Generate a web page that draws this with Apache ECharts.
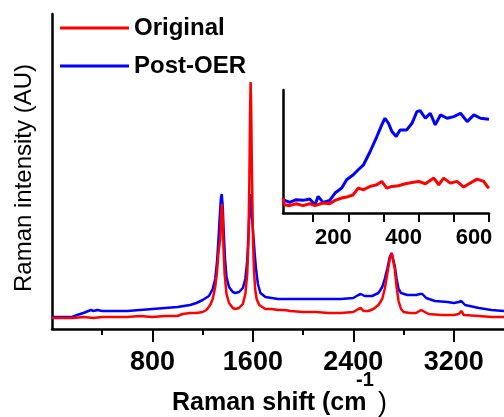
<!DOCTYPE html>
<html><head><meta charset="utf-8">
<script src="https://cdn.jsdelivr.net/npm/echarts@6/dist/echarts.min.js"></script>
<style>html,body{margin:0;padding:0;background:#fff}#c{width:504px;height:417px}</style>
</head><body><div id="c"></div>
<script>
// Main spectrum (Raman shift, intensity in arbitrary units)
const shiftOriginal = [0,60,120,170,250,330,400,480,600,700,800,900,1000,1040,1100,1150,1200,1230,1260,1280,1300,1315,1325,1335,1340,1348,1354,1360,1366,1375,1390,1410,1440,1460,1490,1520,1540,1555,1565,1572,1578,1582,1586,1592,1600,1608,1618,1630,1650,1700,1750,1800,1850,1900,2000,2100,2200,2300,2400,2440,2460,2480,2520,2560,2600,2630,2650,2670,2690,2705,2715,2730,2745,2760,2780,2800,2850,2900,2940,2970,3000,3100,3200,3240,3260,3280,3400,3500,3600];
const intOriginal   = [11,11,11,11,12,11,12,12,12,13,12,13,13,15,16,16,17,19,24,30,42,58,75,86,90,118,125,110,80,55,35,26,21,20,21,25,35,55,90,150,220,247,225,160,95,60,40,30,24,20,20,19,19,18,17,17,16,16,17,20,21,18,18,20,24,30,40,55,70,76,74,60,42,28,20,17,16,16,19,17,15,14,14,15,18,14,13,12,12];
const shiftPostOER  = [0,60,120,160,200,250,290,310,330,360,400,500,600,700,800,900,1000,1100,1150,1200,1250,1280,1300,1315,1325,1335,1345,1352,1360,1368,1378,1390,1410,1440,1460,1490,1520,1540,1555,1565,1575,1582,1590,1600,1614,1625,1640,1660,1700,1750,1800,1900,2000,2100,2200,2300,2400,2440,2460,2490,2550,2600,2630,2650,2670,2690,2705,2715,2730,2745,2760,2780,2830,2900,2930,2950,2980,3050,3150,3200,3240,3260,3290,3400,3500,3600];
const intPostOER    = [12,12,12,12,14,16,18,19,18,19,18,18,18,19,20,21,22,24,26,29,33,40,50,68,88,110,130,135,122,96,70,52,42,37,36,37,41,50,68,95,125,135,115,100,76,60,45,36,32,31,30,30,30,30,30,30,31,34,35,33,33,36,42,50,60,72,76,75,63,50,40,36,34,34,35,35,31,28,27,26,27,28,24,21,19,18];
const mainMajorTicks = [800,1600,2400,3200];
const mainMinorTicks = [400,1200,2000,2800];

// Inset (low-frequency region)
const insetShift    = [14,33,52,71,90,105,114,128,147,162,181,195,214,228,243,262,281,295,304,314,324,336,347,366,381,395,404,419,433,447,462,481,500,519,538,557,576,600];
const insetPostOER  = [40,32,40,38,42,25,50,32,38,60,75,100,115,130,145,185,230,265,285,270,245,230,250,250,270,305,308,285,300,265,295,285,290,300,275,295,285,282];
const insetShiftO   = [14,18,33,52,71,90,105,128,147,162,181,195,214,228,243,262,281,295,309,324,342,362,381,400,419,443,457,471,490,509,528,547,566,585,595,600];
const insetOriginal = [45,25,22,28,22,28,22,30,28,38,45,48,55,75,70,80,85,95,75,80,82,88,92,95,88,105,85,105,90,95,78,90,102,95,80,75];
const insetTicks = [100,200,300,400,500,600];
const insetLabels = [200,400,600];

const zip = (a,b)=>a.map((x,i)=>[x,b[i]]);
const FONT = 'Liberation Sans, Arial, sans-serif';
const chart = echarts.init(document.getElementById('c'));
chart.setOption({
  animation:false,
  backgroundColor:'#fff',
  legend:{
    orient:'vertical', left:55, top:11, itemWidth:69, itemHeight:3, itemGap:14, icon:'rect',
    data:['Original','Post-OER'],
    textStyle:{fontFamily:FONT, fontWeight:'bold', fontSize:24, lineHeight:24, color:'#000'}
  },
  graphic:[
    {type:'text', x:24, y:178, rotation:Math.PI/2,
     style:{text:'Raman intensity (AU)', fontFamily:FONT, fontSize:24, fill:'#000', align:'center', verticalAlign:'middle'}},
    {type:'text', x:172, y:403,
     style:{text:'Raman shift (cm', fontFamily:FONT, fontWeight:'bold', fontSize:25, fill:'#000', align:'left', verticalAlign:'middle'}},
    {type:'text', x:356, y:380,
     style:{text:'-1', fontFamily:FONT, fontWeight:'bold', fontSize:20, fill:'#000', align:'left', verticalAlign:'middle'}},
    {type:'text', x:378, y:404,
     style:{text:')', fontFamily:FONT, fontSize:27, fill:'#000', align:'left', verticalAlign:'middle'}}
  ],
  grid:[
    {left:52, top:14, right:0, bottom:88, outerBoundsMode:'none', containLabel:false},
    {left:283, top:90, width:206, height:123, outerBoundsMode:'none', containLabel:false}
  ],
  xAxis:[
    {gridIndex:0, type:'value', min:0, max:3600, interval:400,
     axisLine:{show:true, onZero:false, lineStyle:{color:'#000', width:2.5}},
     axisTick:{show:true, inside:false, length:13, lineStyle:{width:2, color:'#000'}, customValues:mainMajorTicks},
     axisLabel:{customValues:mainMajorTicks, formatter:v=>String(v), fontFamily:FONT, fontWeight:'bold', fontSize:27, color:'#000', margin:20},
     splitLine:{show:false}
    },
    {gridIndex:1, type:'value', min:14, max:600,
     axisLine:{show:true, onZero:false, lineStyle:{color:'#000', width:2.5}},
     axisTick:{show:true, inside:false, length:9, customValues:insetTicks, lineStyle:{width:2, color:'#000'}},
     axisLabel:{customValues:insetLabels, fontFamily:FONT, fontWeight:'bold', fontSize:22, color:'#000', margin:14, padding:[0,30,0,0]},
     splitLine:{show:false}
    },
    {gridIndex:0, type:'value', min:0, max:3600, position:'bottom',
     axisLine:{show:false},
     axisTick:{show:true, inside:false, length:6, customValues:mainMinorTicks, lineStyle:{width:2, color:'#000'}},
     axisLabel:{show:false}, splitLine:{show:false}
    }
  ],
  yAxis:[
    {gridIndex:0, type:'value', min:0, max:315,
     axisLine:{show:true, onZero:false, lineStyle:{color:'#000', width:2.5}},
     axisTick:{show:false}, axisLabel:{show:false}, splitLine:{show:false}
    },
    {gridIndex:1, type:'value', min:0, max:370,
     axisLine:{show:true, onZero:false, lineStyle:{color:'#000', width:2.5}},
     axisTick:{show:false}, axisLabel:{show:false}, splitLine:{show:false}
    }
  ],
  series:[
    {name:'Post-OER', type:'line', xAxisIndex:0, yAxisIndex:0, data:zip(shiftPostOER,intPostOER), showSymbol:false, symbol:'none', color:'#0000ff', lineStyle:{width:2.5}, z:2},
    {name:'Original', type:'line', xAxisIndex:0, yAxisIndex:0, data:zip(shiftOriginal,intOriginal), showSymbol:false, symbol:'none', color:'#ff0000', lineStyle:{width:2.5}, z:3},
    {name:'Post-OER', type:'line', xAxisIndex:1, yAxisIndex:1, data:zip(insetShift,insetPostOER), showSymbol:false, symbol:'none', color:'#0000ff', lineStyle:{width:3}, z:2},
    {name:'Original', type:'line', xAxisIndex:1, yAxisIndex:1, data:zip(insetShiftO,insetOriginal), showSymbol:false, symbol:'none', color:'#ff0000', lineStyle:{width:3}, z:3}
  ]
});
</script></body></html>
